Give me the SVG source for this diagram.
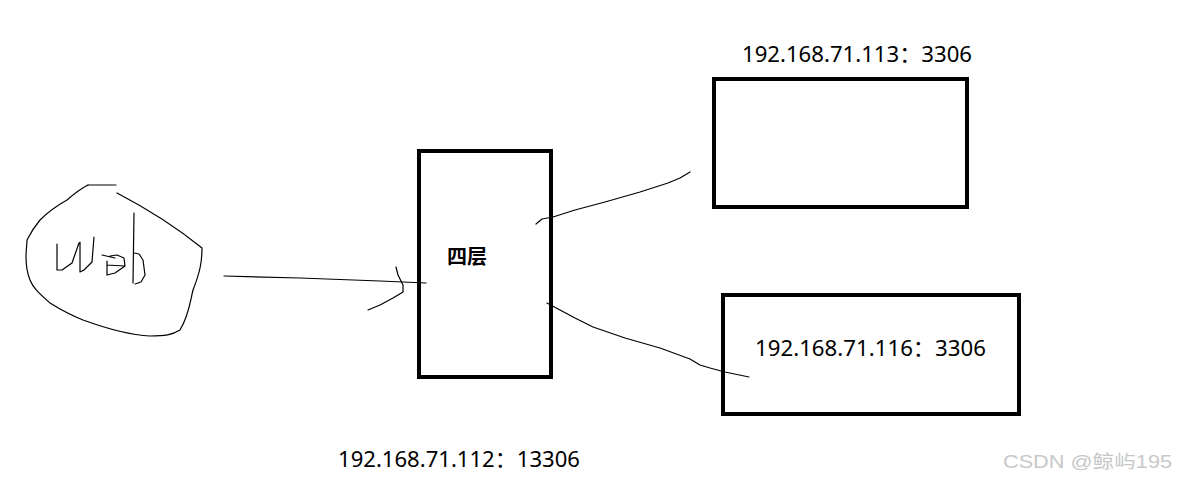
<svg xmlns="http://www.w3.org/2000/svg" width="1177" height="484" viewBox="0 0 1177 484">
<style>
.box{fill:#fff;stroke:#000;stroke-width:4}
.ink{fill:none;stroke:#000;stroke-width:1.2;stroke-linejoin:round;stroke-linecap:round}
.lbl{font-family:"Noto Sans","Noto Sans CJK SC",sans-serif;font-size:22px;fill:#000}
.cn{font-family:"Noto Sans CJK SC",sans-serif;font-size:20px;font-weight:bold;fill:#000}
.wm{font-family:"Liberation Sans","Noto Sans CJK SC",sans-serif;font-size:18px;fill:#c8c8c8}
</style>
<rect width="1177" height="484" fill="#fff"/>
<g id="web">
<path class="ink" d="M88,185 L116,185"/>
<path class="ink" d="M117,193 C140,205 170,222 202,248 C202,262 200,272 193,290 C190,302 189,315 180,330 C172,335 165,336 150,336 C130,335 105,328 83,320 C68,314 58,308 50,303 C40,294 33,288 30,280 C26,270 26,262 26,257 C26,250 27,244 27,240 C31,232 35,226 40,220 C50,210 58,205 67,200 C75,193 82,188 88,185"/>
<path class="ink" d="M57,244 L57,270 L62,270 L72,263 L79,243 M80,242 L80,272 L84,270 L92,262 L94,237"/>
<path class="ink" d="M102,255 L115,258 M107,261 L107,275 L115,273 L125,266 L124,258 L117,255 L110,256 M107,265 L125,266"/>
<path class="ink" d="M134,213 L133,283 M134,253 L139,254 L143,260 L145,275 L141,282 L135,284"/>
</g>
<g id="l4">
<rect class="box" x="419" y="151" width="132" height="226"/>
<text class="cn" x="467" y="264" text-anchor="middle">四层</text>
</g>
<g id="db113">
<rect class="box" x="714" y="79" width="253" height="128"/>
<text class="lbl" x="742" y="62" textLength="230" lengthAdjust="spacingAndGlyphs">192.168.71.113：3306</text>
</g>
<g id="db116">
<rect class="box" x="723" y="295" width="296" height="119"/>
<text class="lbl" x="755" y="356" textLength="231" lengthAdjust="spacingAndGlyphs">192.168.71.116：3306</text>
</g>
<g id="vip">
<text class="lbl" x="338" y="467" textLength="242" lengthAdjust="spacingAndGlyphs">192.168.71.112：13306</text>
</g>
<g id="connectors">
<path class="ink" d="M224,276 L300,278 L380,281 L426,283"/>
<path class="ink" d="M396,267 L398,275 L403,285 L403,292 L393,298 L380,305 L368,310"/>
<path class="ink" d="M536,224 L542,219 L553,217 L575,210 L605,202 L640,192 L668,183 L680,178 L690,172"/>
<path class="ink" d="M547,303 L560,310 L575,318 L593,327 L625,338 L660,348 L690,359 L700,365 L710,368 L725,372 L749,377"/>
</g>
<text class="wm" x="1003" y="468" textLength="169" lengthAdjust="spacingAndGlyphs">CSDN @鲸屿195</text>
</svg>
